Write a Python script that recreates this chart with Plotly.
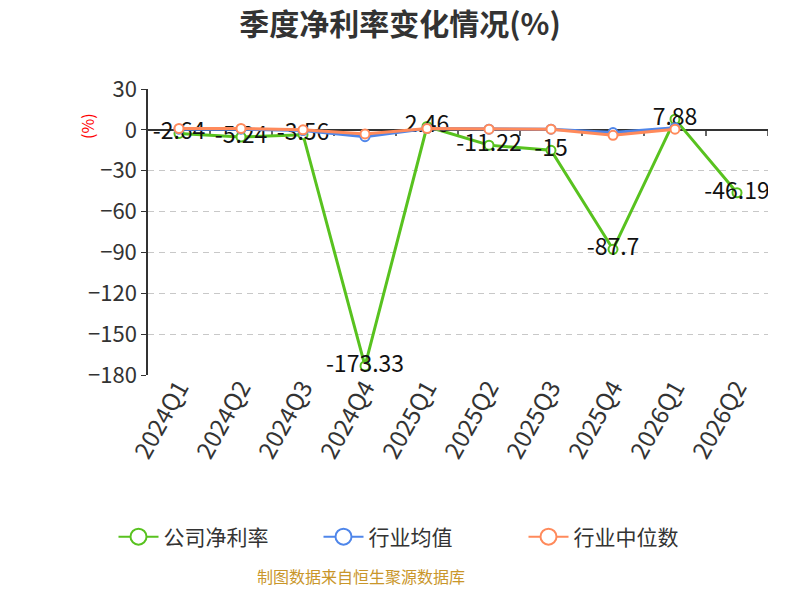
import plotly.graph_objects as go

# données
quarters = ["2024Q1", "2024Q2", "2024Q3", "2024Q4", "2025Q1",
            "2025Q2", "2025Q3", "2025Q4", "2026Q1", "2026Q2"]
company_margin = [-2.64, -5.24, -3.56, -173.33, 2.46, -11.22, -15, -87.7, 7.88, -46.19]
industry_avg = [0.5, 0.5, -0.5, -5, 1, 0.5, 0.5, -2, 1.5, None]
industry_median = [1, 1, 0, -3, 1, 0.5, 0.5, -4, 0.5, None]
company_labels = ["-2.64", "-5.24", "-3.56", "-173.33", "2.46",
                  "-11.22", "-15", "-87.7", "7.88", "-46.19"]

GREEN = "#58c21f"
BLUE = "#4f86ea"
ORANGE = "#ff8a5b"
FONT = "Noto Sans CJK SC"

# la page ajoute ~8px de marge autour du graphique
W, H = 792, 592
PLOT_L, PLOT_R, PLOT_T, PLOT_B = 140, 760, 81, 367

fig = go.Figure()

def add_line(name, values, color, labels=None):
    # courbe réelle (hors légende)
    fig.add_trace(go.Scatter(
        x=quarters, y=values, name=name, legendgroup=name, showlegend=False,
        mode="lines+markers+text" if labels else "lines+markers",
        text=labels, textposition="middle center",
        textfont=dict(size=23, color="#111", family=FONT),
        line=dict(color=color, width=3),
        marker=dict(symbol="circle", size=9, color="white",
                    line=dict(color=color, width=2)),
        connectgaps=False,
    ))
    # entrée de légende avec un plus grand cercle
    fig.add_trace(go.Scatter(
        x=[None], y=[None], name=name, legendgroup=name, mode="lines+markers",
        line=dict(color=color, width=2),
        marker=dict(symbol="circle", size=16, color="white",
                    line=dict(color=color, width=2)),
    ))

add_line("公司净利率", company_margin, GREEN, company_labels)
add_line("行业均值", industry_avg, BLUE)
add_line("行业中位数", industry_median, ORANGE)

# petites graduations sur l'axe x (à y = 0), aux limites des catégories
for i in range(1, len(quarters) + 1):
    fig.add_shape(type="line", xref="x", yref="y",
                  x0=i - 0.5, x1=i - 0.5, y0=0, y1=-4.5,
                  line=dict(color="#333", width=1.5), layer="below")

pw = PLOT_R - PLOT_L
ph = PLOT_B - PLOT_T
fig.add_annotation(text="(%)", xref="paper", yref="paper",
                   x=(79 - PLOT_L) / pw, y=(PLOT_B - 118) / ph,
                   xanchor="center", yanchor="middle",
                   textangle=-90, showarrow=False,
                   font=dict(size=16, color="red", family=FONT))
fig.add_annotation(text="制图数据来自恒生聚源数据库", xref="paper", yref="paper",
                   x=(353 - PLOT_L) / pw, y=(PLOT_B - 582) / ph, showarrow=False,
                   font=dict(size=16, color="#c9962a", family=FONT))

fig.update_layout(
    width=W, height=H,
    margin=dict(l=PLOT_L, r=W - PLOT_R, t=PLOT_T, b=H - PLOT_B, autoexpand=False),
    paper_bgcolor="white", plot_bgcolor="white",
    font=dict(family=FONT, color="#333"),
    title=dict(text="<b>季度净利率变化情况(%)</b>", x=(392 - 0) / W, xanchor="center",
               y=1 - 16 / H, yanchor="middle",
               font=dict(size=30, color="#333", family=FONT)),
    showlegend=True,
    legend=dict(orientation="h", xref="container", x=413 / W, xanchor="center",
                yref="container", y=1 - 529 / H, yanchor="middle",
                font=dict(size=21, color="#333", family=FONT),
                entrywidth=150, entrywidthmode="pixels", itemwidth=40),
)

fig.update_xaxes(
    type="category", range=[-0.5, 9.5], showgrid=False, showline=False,
    ticks="", tickangle=-61, tickfont=dict(size=24, color="#333", family=FONT),
    ticklabelstandoff=-7,
    zeroline=False, automargin=False,
)
fig.update_yaxes(
    range=[-180, 30], dtick=30, tick0=0, automargin=False,
    showgrid=True, gridcolor="#c8c8c8", griddash="6px,5px", gridwidth=1.2,
    zeroline=True, zerolinecolor="#333", zerolinewidth=1.5,
    showline=True, linecolor="#333", linewidth=1.5,
    ticks="outside", ticklen=5, tickcolor="#333",
    tickfont=dict(size=22, color="#333", family=FONT),
)

fig.write_html("out.html")
